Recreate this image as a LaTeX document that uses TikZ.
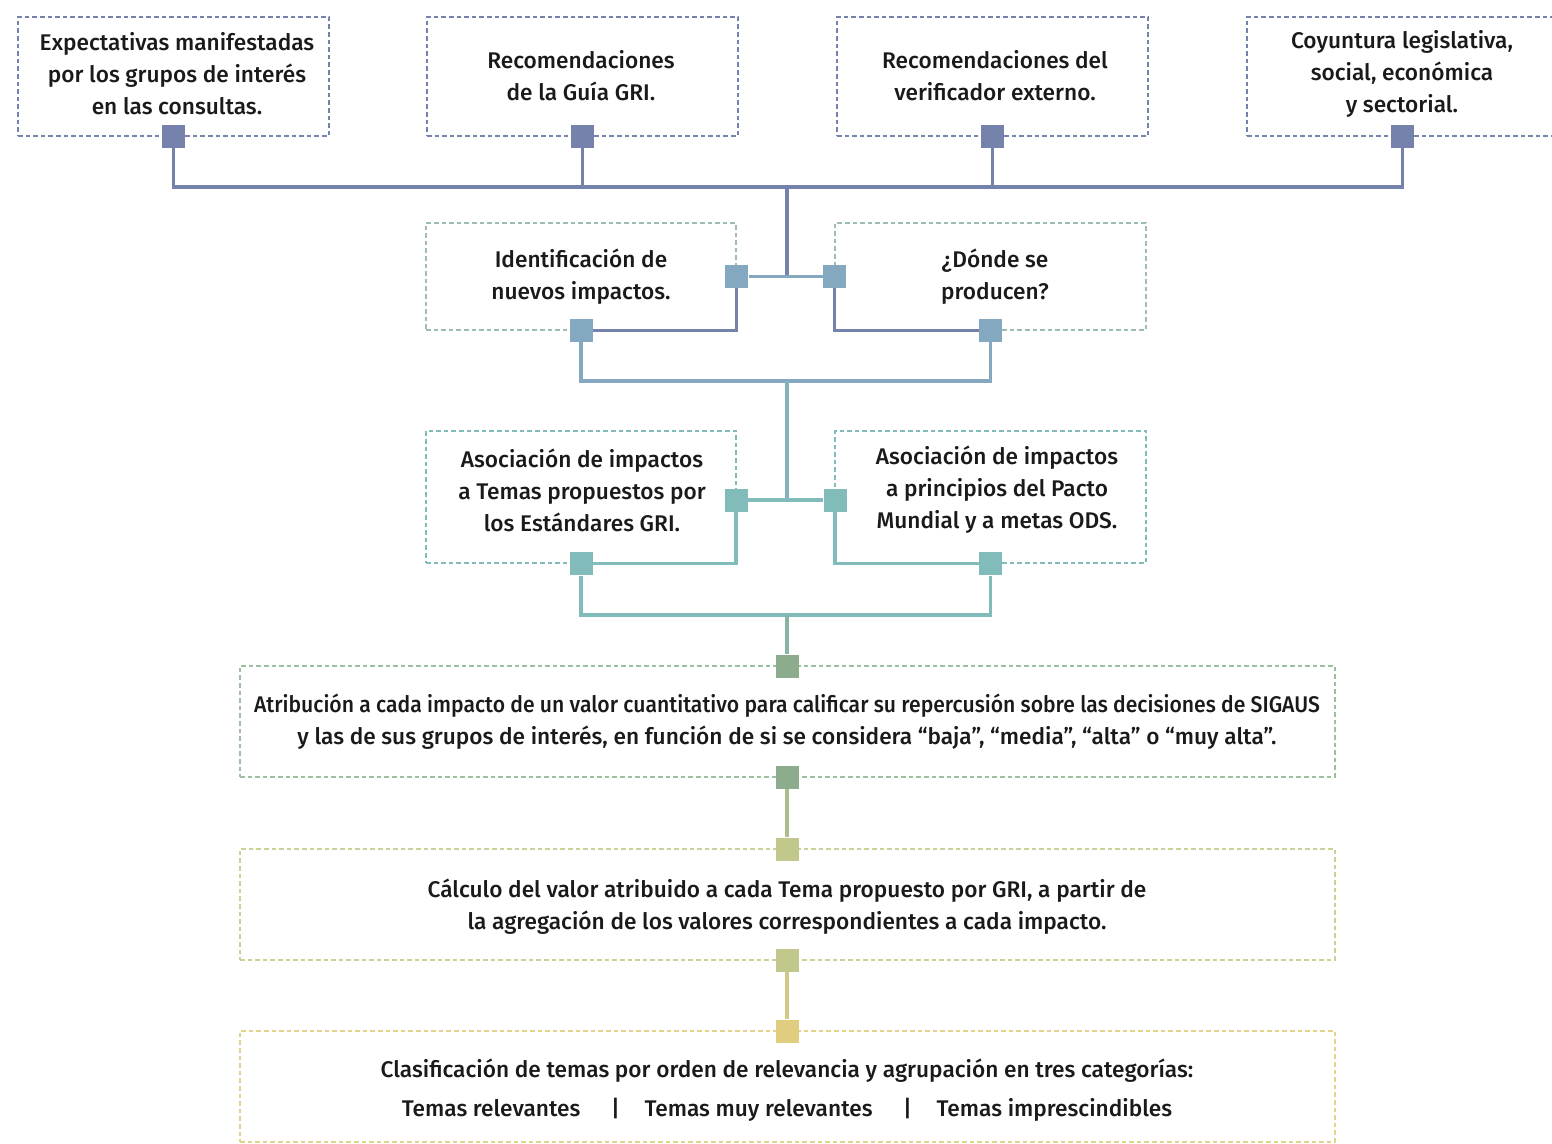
\documentclass[tikz,border=0pt]{standalone}
\usepackage{fontspec}
\setmainfont{Fira Sans}[UprightFont={* Medium}]
\usetikzlibrary{fit}
\definecolor{slate}{HTML}{7482AC}
\definecolor{steel}{HTML}{84A8BF}
\definecolor{sea}{HTML}{9CBDB5}
\definecolor{teal}{HTML}{82BCBA}
\definecolor{sage}{HTML}{8DAB8D}
\definecolor{sageline}{HTML}{9DC19E}
\definecolor{olive}{HTML}{C2C88C}
\definecolor{oliveline}{HTML}{C8D196}
\definecolor{mustard}{HTML}{E0CD80}
\definecolor{mustardline}{HTML}{E3D38A}
\definecolor{ink}{HTML}{1A1A1A}
\tikzset{
	frame/.style = {inner sep=0pt, dash pattern=on 3.5pt off 2.2pt, line width=1.1pt},
	caption/.style = {inner sep=0pt, align=center, text=ink, font=\fontsize{17}{24}\selectfont},
	knot/.style = {rectangle, inner sep=0pt, minimum size=17.25pt},
	wire/.style = {line width=2.3pt}
}

\begin{document}
\begin{tikzpicture}[x=0.75pt, y=-0.75pt]
\useasboundingbox (0,0) rectangle (1552,1144);
% fuentes
\node [frame, draw=slate, fit={(18,17) (329,136)}] (expect) {};
\node [frame, draw=slate, fit={(427,17) (738,136)}] (guia) {};
\node [frame, draw=slate, fit={(837,17) (1148,136)}] (verif) {};
\node [frame, draw=slate, fit={(1247,17) (1558,136)}] (coyunt) {};
\node [caption] (expect-txt) at (177,74) {Expectativas manifestadas\\por los grupos de interés\\en las consultas.};
\node [caption] (guia-txt) at (581,76) {Recomendaciones\\de la Guía GRI.};
\node [caption] (verif-txt) at (995,76) {Recomendaciones del\\verificador externo.};
\node [caption] (coyunt-txt) at (1402,74) {Coyuntura legislativa,\\social, económica\\y sectorial.};
% impactos
\node [frame, draw=sea, fit={(426,223) (736,330)}] (ident) {};
\node [frame, draw=sea, fit={(835,223) (1146,330)}] (donde) {};
\node [frame, draw=teal, fit={(426,431) (736,563)}] (asocgri) {};
\node [frame, draw=teal, fit={(835,431) (1146,563)}] (asocods) {};
\node [caption] (ident-txt) at (581,277) {Identificación de\\nuevos impactos.};
\node [caption] (donde-txt) at (995,277) {¿Dónde se\\producen?};
\node [caption] (asocgri-txt) at (582,490) {Asociación de impactos\\a Temas propuestos por\\los Estándares GRI.};
\node [caption] (asocods-txt) at (997,490) {Asociación de impactos\\a principios del Pacto\\Mundial y a metas ODS.};
% valoracion
\node [frame, draw=sageline, fit={(240,666) (1335,777)}] (atrib) {};
\node [frame, draw=oliveline, fit={(240,849) (1335,960)}] (calc) {};
\node [frame, draw=mustardline, fit={(240,1031) (1335,1142)}] (clasif) {};
\node [caption] (atrib-txt) at (787,722) {\scalebox{0.933}[1]{Atribución a cada impacto de un valor cuantitativo para calificar su repercusión sobre las decisiones de SIGAUS}\\y las de sus grupos de interés, en función de si se considera “baja”, “media”, “alta” o “muy alta”.};
\node [caption] (calc-txt) at (787,907) {Cálculo del valor atribuido a cada Tema propuesto por GRI, a partir de\\la agregación de los valores correspondientes a cada impacto.};
\node [caption] (clasif-txt) at (787,1090) {Clasificación de temas por orden de relevancia y agrupación en tres categorías:\\[5pt]Temas relevantes\hspace{23pt}|\hspace{18.5pt}Temas muy relevantes\hspace{23pt}|\hspace{18.5pt}Temas imprescindibles};

% cuadros de union
\node [knot, fill=slate] (expect-sq) at (expect.south) {};
\node [knot, fill=slate] (guia-sq) at (guia.south) {};
\node [knot, fill=slate] (verif-sq) at (verif.south) {};
\node [knot, fill=slate] (coyunt-sq) at (coyunt.south) {};
\node [knot, fill=steel] (ident-sqr) at (ident.east) {};
\node [knot, fill=steel] (ident-sqb) at (ident.south) {};
\node [knot, fill=steel] (donde-sql) at (donde.west) {};
\node [knot, fill=steel] (donde-sqb) at (donde.south) {};
\node [knot, fill=teal] (asocgri-sqr) at (736,500) {};
\node [knot, fill=teal] (asocgri-sqb) at (asocgri.south) {};
\node [knot, fill=teal] (asocods-sql) at (835,500) {};
\node [knot, fill=teal] (asocods-sqb) at (asocods.south) {};
\node [knot, fill=sage] (atrib-sqt) at (787,666) {};
\node [knot, fill=sage] (atrib-sqb) at (787,777) {};
\node [knot, fill=olive] (calc-sqt) at (787,849) {};
\node [knot, fill=olive] (calc-sqb) at (787,960) {};
\node [knot, fill=mustard] (clasif-sqt) at (787,1031) {};

\coordinate (hub1) at (787,187);
\coordinate (hub2) at (787,381);
\coordinate (hub3) at (787,615);

% lineas
\draw [wire, slate] (expect-sq) |- (hub1) -| (coyunt-sq);
\draw [wire, slate] (guia-sq) -- (guia-sq |- hub1);
\draw [wire, slate] (verif-sq) -- (verif-sq |- hub1);
\draw [wire, slate] (hub1) -- (hub1 |- ident-sqr);
\draw [wire, steel] (ident-sqr) -- (donde-sql);
\draw [wire, slate] (ident-sqr) |- (ident-sqb);
\draw [wire, slate] (donde-sql) |- (donde-sqb);
\draw [wire, steel] (ident-sqb) |- (hub2) -| (donde-sqb);
\draw [wire, steel!50!teal] (hub2) -- (hub2 |- asocgri-sqr);
\draw [wire, teal] (asocgri-sqr) -- (asocods-sql);
\draw [wire, teal] (asocgri-sqr) |- (asocgri-sqb);
\draw [wire, teal] (asocods-sql) |- (asocods-sqb);
\draw [wire, teal] (asocgri-sqb) |- (hub3) -| (asocods-sqb);
\draw [wire, teal!50!sage] (hub3) -- (atrib-sqt);
\draw [wire, sage!40!olive] (atrib-sqb) -- (calc-sqt);
\draw [wire, olive!50!mustard] (calc-sqb) -- (clasif-sqt);
\end{tikzpicture}
\end{document}
